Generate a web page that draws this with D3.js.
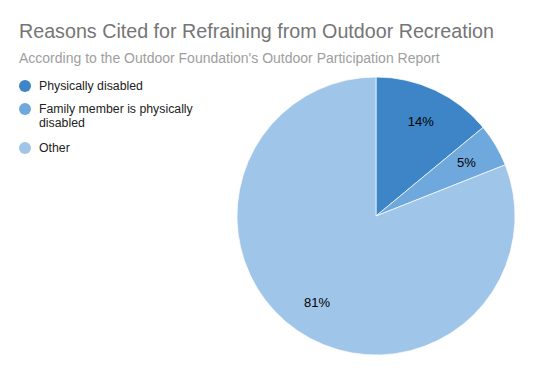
<!DOCTYPE html>
<html>
<head>
<meta charset="utf-8">
<style>
  body { margin: 0; background: #fff; }
  svg text { font-family: Arial, "Liberation Sans", sans-serif; }
</style>
</head>
<body>
<div id="chart_div"></div>
<script src="https://cdn.jsdelivr.net/npm/d3@7"></script>
<script>

// data
const categories = ["Physically disabled", "Family member is physically disabled", "Other"];
const shares = [14, 5, 81];
const slice_colors = ["#3d85c6", "#6fa8dc", "#9fc5e8"];

const width = 533,
    height = 374,
    radius = 139,
    cx = 376,
    cy = 216;

const svg = d3.select("#chart_div")
  .append("svg")
    .attr("width", width)
    .attr("height", height);

// title + subtitle
svg.append("text")
    .attr("x", 19)
    .attr("y", 38)
    .style("font-size", "19.7px")
    .style("fill", "#757575")
    .text("Reasons Cited for Refraining from Outdoor Recreation");

svg.append("text")
    .attr("x", 19)
    .attr("y", 63)
    .style("font-size", "14px")
    .style("fill", "#9e9e9e")
    .text("According to the Outdoor Foundation's Outdoor Participation Report");

// pie
const pie_data = d3.pie().sort(null)(shares);
const arc = d3.arc().innerRadius(0).outerRadius(radius);
const label_arc = d3.arc().innerRadius(radius * 0.755).outerRadius(radius * 0.755);

const pie_g = svg.append("g")
    .attr("transform", "translate(" + cx + "," + cy + ")");

pie_g.selectAll("path.slice")
  .data(pie_data)
  .enter()
  .append("path")
    .attr("class", "slice")
    .attr("d", arc)
    .style("fill", (d, i) => slice_colors[i])
    .style("stroke", "#fff")
    .style("stroke-width", 0.7);

pie_g.selectAll("text.pct")
  .data(pie_data)
  .enter()
  .append("text")
    .attr("class", "pct")
    .attr("transform", d => "translate(" + label_arc.centroid(d) + ")")
    .attr("text-anchor", "middle")
    .attr("dy", "0.35em")
    .style("font-size", "13px")
    .style("fill", "#000")
    .text(d => d.data + "%");

// legend
const legend_lines = [["Physically disabled"], ["Family member is physically", "disabled"], ["Other"]];
const legend_y = [86, 109, 148];

const legend = svg.append("g");
const items = legend.selectAll("g.item")
  .data(categories)
  .enter()
  .append("g")
    .attr("class", "item")
    .attr("transform", (d, i) => "translate(25," + legend_y[i] + ")");

items.append("circle")
    .attr("r", 6)
    .style("fill", (d, i) => slice_colors[i]);

items.append("text")
    .attr("x", 14)
    .attr("y", 0)
    .style("font-size", "12.3px")
    .style("fill", "#222")
    .each(function(d, i) {
      d3.select(this).selectAll("tspan")
        .data(legend_lines[i])
        .enter()
        .append("tspan")
          .attr("x", 14)
          .attr("dy", (t, j) => j === 0 ? "0.35em" : "13.5px")
          .text(t => t);
    });

</script>
</body>
</html>
